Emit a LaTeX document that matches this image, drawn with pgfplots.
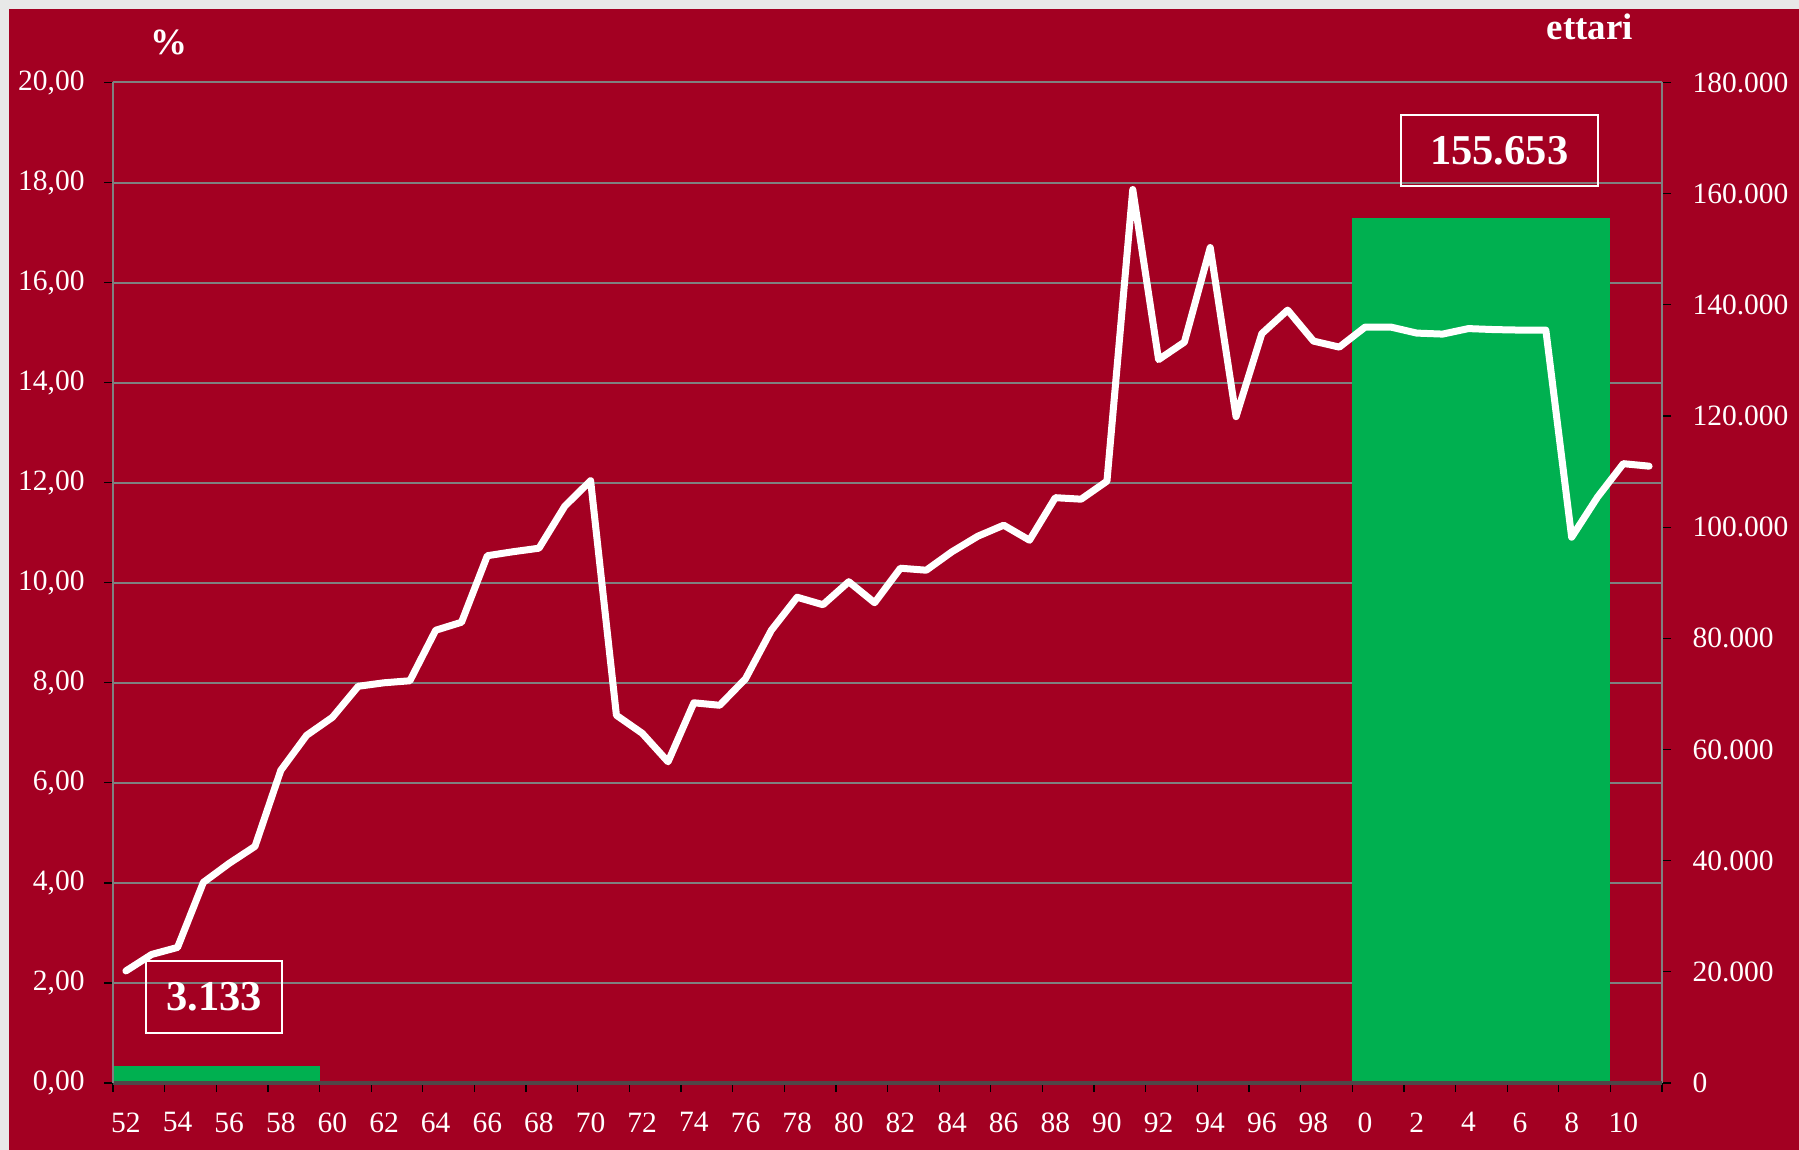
\documentclass[border=0pt]{standalone}
\usepackage{fontspec}
\setmainfont{Liberation Serif}
\usepackage{pgfplots}
\pgfplotsset{compat=1.18}
\definecolor{bgred}{RGB}{163,0,34}
\definecolor{bargreen}{RGB}{0,176,80}
\definecolor{gridgray}{RGB}{128,128,128}
\definecolor{framegray}{RGB}{232,232,232}
\definecolor{axisdark}{RGB}{80,70,72}

\pgfplotsset{
  base/.style={
    scale only axis,
    width=619.6pt, height=400.2pt,
    at={(45.2pt,26.8pt)}, anchor=south west,
    xmin=1951.5, xmax=2011.5,
    scaled ticks=false,
    tick align=outside,
    major tick length=3.6pt,
    tick style={black, line width=0.5pt},
    ticklabel style={white, font=\fontsize{11.8}{14}\selectfont, inner sep=0pt},
  }
}

\begin{document}
\begin{tikzpicture}[x=0.4pt,y=0.4pt]
\fill[framegray] (0,0) rectangle (1799,1150);
\fill[bgred] (9,0) rectangle (1799,1141);

% grid only
\begin{axis}[base, ymin=0, ymax=20,
  ytick={0,2,...,20}, yticklabels={}, major tick length=0pt,
  xtick=\empty,
  ymajorgrids, grid style={gridgray, line width=0.8pt},
  axis line style={draw=none}]
\end{axis}

% bars, right axis
\begin{axis}[base, ymin=0, ymax=180000,
  axis y line*=right, axis x line=none,
  y axis line style={gridgray, line width=0.6pt, -},
  ytick={0,20000,40000,60000,80000,100000,120000,140000,160000,180000},
  yticklabels={0,20.000,40.000,60.000,80.000,100.000,120.000,140.000,160.000,180.000},
  yticklabel style={anchor=west, xshift=8.4pt}]
\addplot[ybar interval, fill=bargreen, draw=none] coordinates {(1951.5,3133) (1959.5,3133)};
\addplot[ybar interval, fill=bargreen, draw=none] coordinates {(1999.5,155653) (2009.5,155653)};
\end{axis}

% line, left axis and x axis
\begin{axis}[base, ymin=0, ymax=20,
  axis x line*=bottom, axis y line*=left,
  x axis line style={axisdark, line width=1.3pt, -},
  y axis line style={gridgray, line width=0.6pt, -},
  ytick={0,2,...,20},
  yticklabels={{0,00},{2,00},{4,00},{6,00},{8,00},{10,00},{12,00},{14,00},{16,00},{18,00},{20,00}},
  yticklabel style={anchor=east, xshift=-7.6pt},
  xtick={1951.5,1953.5,...,2011.5}, xticklabels={},
  extra x ticks={1952,1954,...,2010},
  extra x tick labels={52,54,56,58,60,62,64,66,68,70,72,74,76,78,80,82,84,86,88,90,92,94,96,98,0,2,4,6,8,10},
  extra x tick style={tick style={draw=none}},
  xticklabel style={anchor=north, yshift=-8pt}]
\addplot[white, line width=2.8pt, line join=round, line cap=round] coordinates {
(1952,2.24) (1953,2.57) (1954,2.71) (1955,4.01) (1956,4.39) (1957,4.73)
(1958,6.25) (1959,6.95) (1960,7.31) (1961,7.93) (1962,8.00) (1963,8.04)
(1964,9.05) (1965,9.21) (1966,10.54) (1967,10.62) (1968,10.69) (1969,11.53)
(1970,12.04) (1971,7.35) (1972,6.99) (1973,6.42) (1974,7.60) (1975,7.55)
(1976,8.08) (1977,9.05) (1978,9.71) (1979,9.56) (1980,10.02) (1981,9.60)
(1982,10.29) (1983,10.25) (1984,10.62) (1985,10.93) (1986,11.15) (1987,10.85)
(1988,11.70) (1989,11.67) (1990,12.03) (1991,17.86) (1992,14.46) (1993,14.81)
(1994,16.70) (1995,13.32) (1996,14.98) (1997,15.45) (1998,14.83) (1999,14.71)
(2000,15.11) (2001,15.11) (2002,14.99) (2003,14.97) (2004,15.08) (2005,15.06)
(2006,15.05) (2007,15.05) (2008,10.91) (2009,11.71) (2010,12.38) (2011,12.33)
};
\end{axis}

\node[white, anchor=base, font=\fontsize{14.8}{18}\selectfont\bfseries] at (169,1095) {\%};
\node[white, anchor=base, font=\fontsize{14.8}{18}\selectfont\bfseries] at (1590,1110) {ettari};

\node[draw=white, line width=0.8pt, minimum width=197*0.4pt, minimum height=70.7*0.4pt, inner sep=0pt,
  text=white, font=\fontsize{17}{20}\selectfont\bfseries] at (1499.2,999.7) {155.653};
\node[draw=white, line width=0.8pt, minimum width=136.6*0.4pt, minimum height=71.7*0.4pt, inner sep=0pt,
  text=white, font=\fontsize{17}{20}\selectfont\bfseries] at (214,153.1) {3.133};
\end{tikzpicture}
\end{document}
